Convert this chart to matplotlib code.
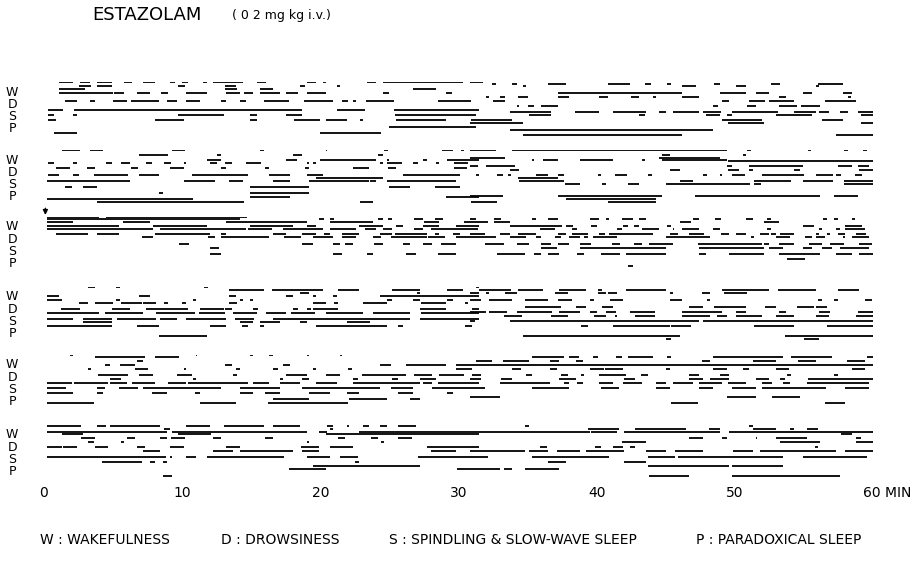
import matplotlib
matplotlib.use("Agg")
import matplotlib.pyplot as plt
from matplotlib import transforms

# sleep stages, top to bottom
STAGES = ["W", "D", "S", "P"]
TIME_TICKS = [0, 10, 20, 30, 40, 50]
LEGEND = ["W : WAKEFULNESS", "D : DROWSINESS",
          "S : SPINDLING & SLOW-WAVE SLEEP", "P : PARADOXICAL SLEEP"]

# each row: (stage level, [start, end, start, end, ...]) in minutes
# level 0 = W, 1 = D, 2 = S, 3 = P (the records are slightly offset)
GROUP1 = [
    (-0.84, [1.1, 2.1, 2.6, 3.3, 3.8, 4.9, 5.8, 6.4, 7.2, 8.0, 9.1, 9.5, 10.0, 10.4, 11.5, 11.8,
             12.2, 14.4, 15.4, 16.1, 19.0, 19.7, 20.2, 20.4, 23.4, 24.0, 24.5, 30.3, 30.8, 31.8]),
    (-0.65, [32.4, 32.7, 33.9, 34.2, 36.5, 37.8, 40.8, 42.4, 43.5, 43.9, 45.1, 45.4, 48.5, 48.9,
             52.6, 53.3, 56.0, 57.8]),
    (-0.49, [2.5, 3.4, 3.8, 4.9, 9.7, 10.2, 13.1, 13.9, 18.5, 18.9, 21.2, 21.4, 34.7, 34.9,
             46.2, 47.2, 50.1, 50.8, 55.9, 56.1]),
    (-0.22, [1.1, 3.0, 13.1, 14.0, 15.6, 16.6, 26.7, 28.4]),
    (0.05, [1.1, 5.0, 5.1, 5.8, 6.7, 7.7, 8.5, 9.0, 10.3, 11.8, 13.2, 14.2, 14.5, 15.1, 15.6, 17.1,
            17.5, 18.4, 19.0, 20.4, 24.5, 25.0, 29.1, 29.5, 37.2, 46.2, 48.9, 50.8, 51.5, 52.5,
            54.9, 55.6, 57.8, 58.5]),
    (0.38, [32.0, 32.2, 33.0, 33.4, 34.3, 35.0, 37.2, 38.0, 40.2, 40.8, 42.5, 43.1, 44.1, 44.3,
            46.2, 47.4, 53.2, 53.7, 58.2, 58.4]),
    (0.7, [1.5, 2.4, 3.3, 3.7, 5.0, 6.0, 6.3, 8.3, 8.9, 9.6, 10.3, 11.3, 12.8, 13.2, 14.2, 14.6,
           15.9, 17.7, 18.8, 20.9, 21.6, 22.0, 22.4, 22.6, 23.3, 25.3, 28.5, 29.6, 29.6, 30.9,
           32.5, 33.4, 49.1, 49.6, 51.0, 52.2, 52.5, 54.3, 56.5, 58.8]),
    (1.14, [34.2, 34.4, 35.0, 35.5, 36.0, 37.2, 48.4, 48.8, 50.9, 51.5, 53.2, 54.5, 54.8, 56.2]),
    (1.46, [0.3, 1.4, 2.2, 18.7, 21.2, 23.2, 25.3, 31.5]),
    (1.6, [33.7, 36.7, 38.4, 40.2, 41.2, 43.6, 44.5, 45.0, 45.5, 47.4, 47.7, 49.0, 49.8, 53.1,
           54.3, 55.9, 56.1, 56.8, 57.6, 58.2, 58.9, 60.0]),
    (1.87, [0.3, 0.7, 2.1, 2.4, 9.7, 13.0, 14.9, 15.4, 17.5, 18.7, 25.4, 28.6, 28.6, 31.3,
            35.1, 36.7, 43.1, 43.5, 47.9, 48.9, 49.4, 49.8, 53.0, 55.6, 59.1, 60.0]),
    (2.25, [0.3, 0.9, 8.0, 10.1, 14.9, 15.4, 18.1, 20.0, 20.4, 21.9, 22.9, 23.1, 25.5, 29.1,
            30.9, 33.9, 49.1, 52.0, 56.3, 57.8]),
    (2.5, [30.8, 34.7, 49.5, 52.1, 59.1, 60.0]),
    (2.82, [25.0, 31.3]),
    (3.09, [33.7, 48.4]),
    (3.3, [0.7, 2.4, 20.0, 24.4]),
    (3.5, [34.7, 46.2, 57.3, 60.0]),
]

GROUP2 = [
    (-0.8, [1.3, 2.6, 3.3, 4.3, 9.3, 10.2, 15.6, 15.9, 20.4, 20.5, 24.6, 24.9, 28.8, 29.6,
            30.2, 30.4, 30.8, 32.7, 33.9, 49.4, 50.9, 51.2, 55.3, 55.5, 57.9, 58.2, 59.3, 59.6]),
    (-0.4, [6.9, 9.0, 12.5, 12.8, 18.0, 18.7, 24.2, 24.5, 44.7, 45.3, 50.6, 50.8]),
    (-0.2, [30.8, 33.4, 44.5, 48.9]),
    (-0.03, [11.8, 12.8, 17.5, 18.3, 20.0, 24.0, 24.8, 25.0, 27.4, 27.7, 29.2, 31.5, 35.3, 35.5,
             36.1, 37.2, 38.8, 41.2, 43.3, 43.5, 44.7, 49.4]),
    (0.1, [49.5, 60.0]),
    (0.25, [0.3, 0.7, 2.1, 2.4, 4.5, 4.9, 5.6, 6.2, 7.4, 7.8, 8.7, 9.2, 10.1, 10.3, 12.0, 12.5,
            13.1, 13.6, 14.6, 15.7, 19.0, 19.2, 19.5, 19.7, 24.3, 24.5, 24.8, 25.9, 26.7, 27.1,
            28.4, 28.6, 29.7, 30.7]),
    (0.45, [30.8, 31.4, 32.0, 34.1, 49.4, 49.8, 51.0, 54.9, 57.5, 58.5, 58.9, 59.7]),
    (0.65, [0.9, 1.9, 3.1, 3.7, 6.3, 6.8, 9.1, 10.1, 12.8, 13.2, 16.0, 16.3, 18.9, 19.2,
            22.4, 23.5, 24.9, 25.5, 29.7, 30.6]),
    (0.81, [33.7, 34.4, 45.3, 46.0, 49.5, 50.3, 51.0, 51.3, 54.3, 54.7, 59.0, 60.0]),
    (1.25, [0.3, 1.1, 2.1, 2.5, 3.6, 6.1, 6.9, 8.3, 10.7, 14.8, 16.3, 17.8, 19.0, 20.2,
            26.0, 30.1, 31.3, 31.5, 32.8, 33.2, 33.6, 33.8, 35.6, 36.5, 37.2, 37.6, 40.1, 40.3,
            41.3, 42.2, 43.7, 44.0, 47.7, 48.0, 48.9, 49.1, 49.8, 50.7, 52.0, 55.0, 55.9, 57.1,
            57.3, 57.7, 58.7, 59.2]),
    (1.5, [19.7, 24.5, 34.3, 37.2]),
    (1.7, [0.2, 6.2, 10.1, 12.4, 13.4, 14.4, 16.6, 17.8, 19.2, 23.5, 23.6, 24.0, 24.8, 28.2,
           28.2, 29.8, 34.4, 37.6, 46.0, 47.0, 51.4, 54.1, 54.9, 57.1, 57.9, 60.0]),
    (1.95, [37.7, 38.8, 40.4, 40.7, 42.3, 43.1, 45.0, 51.1, 51.4, 51.9, 57.9, 60.0]),
    (2.2, [1.5, 2.0, 2.8, 3.8, 14.9, 19.2, 25.0, 26.5, 28.3, 30.1]),
    (2.65, [8.3, 8.6, 14.9, 19.2]),
    (2.9, [30.8, 33.2, 37.2, 44.7, 47.1, 56.2, 57.2, 58.9]),
    (2.98, [14.9, 17.8, 29.1, 31.5]),
    (3.17, [0.2, 10.8, 37.8, 44.3]),
    (3.4, [3.8, 14.5, 22.9, 23.8, 30.9, 32.8, 40.8, 44.3]),
]

GROUP3 = [
    (-0.84, [0.2, 4.0, 4.5, 14.7]),
    (-0.65, [0.2, 7.7, 7.7, 14.2, 19.9, 20.3, 20.7, 21.0, 24.2, 24.5, 24.9, 25.2, 26.8, 27.4,
             28.3, 28.9, 30.8, 31.3, 32.6, 33.1, 35.3, 35.6, 36.5, 37.2, 39.5, 40.2, 40.7, 40.9,
             41.8, 42.6, 43.1, 43.6, 47.0, 47.4, 48.6, 49.0, 50.8, 51.3, 52.3, 52.6, 56.4, 56.7,
             57.2, 57.5, 58.5, 58.7]),
    (-0.38, [0.2, 2.1, 5.7, 7.7, 13.2, 19.0, 20.7, 23.8, 27.5, 28.6, 30.4, 32.1, 32.6, 33.7,
             46.0, 46.8, 52.1, 53.2]),
    (-0.11, [0.2, 5.4, 7.9, 11.8, 14.9, 18.0, 19.0, 19.7, 22.8, 24.5, 25.5, 26.0, 27.4, 28.6,
             29.8, 31.5, 33.7, 37.5, 37.8, 38.3, 39.6, 40.0, 41.9, 42.3, 42.7, 43.1, 45.1, 45.4,
             54.9, 55.7, 58.0, 59.2]),
    (0.17, [0.2, 7.9, 8.4, 14.6, 14.8, 16.5, 17.3, 20.2, 20.7, 22.6, 23.2, 24.0, 24.5, 25.2,
            26.8, 27.4, 28.0, 31.4, 35.9, 37.0, 38.2, 38.6, 41.5, 41.8, 43.3, 44.5, 45.5, 45.6,
            46.2, 47.4, 48.4, 48.9, 52.3, 52.6, 56.1, 56.3, 57.3, 57.6, 58.0, 59.4]),
    (0.57, [0.9, 3.2, 3.8, 5.4, 8.0, 12.0, 12.8, 13.2, 16.6, 17.5, 18.7, 19.7, 20.3, 20.7,
            21.6, 22.8, 24.3, 25.2, 25.4, 27.7, 28.3, 28.6, 29.6, 30.1, 30.8, 31.9, 33.0, 33.7,
            34.3, 35.6, 37.2, 37.8, 38.2, 39.4, 40.2, 40.6, 40.9, 44.1, 45.3, 45.9, 46.7, 47.8,
            49.0, 49.6, 50.1, 50.8, 51.8, 52.5, 52.6, 53.0, 53.3, 54.3, 55.9, 56.1, 56.7, 56.9,
            57.5, 58.0, 58.8, 59.5]),
    (0.85, [7.1, 7.9, 11.9, 12.4, 12.8, 16.3, 17.4, 18.6, 19.5, 20.9, 21.6, 22.6, 23.8, 24.4,
            25.1, 27.7, 27.8, 29.0, 29.8, 32.7, 33.7, 34.9, 35.6, 36.0, 37.0, 37.4, 38.0, 38.8,
            39.1, 39.4, 39.7, 41.5, 45.0, 48.2, 51.2, 51.4, 53.0, 54.0, 55.1, 55.6, 55.9, 56.5,
            57.8, 58.0, 58.5, 59.7]),
    (1.4, [9.8, 10.5, 18.7, 19.5, 20.9, 21.4, 21.8, 22.4, 23.9, 24.5, 26.0, 26.5, 27.4, 28.1,
           28.7, 29.8, 31.9, 33.3, 34.2, 35.1, 36.0, 36.7, 37.2, 38.0, 38.8, 39.6, 41.1, 41.7,
           42.7, 43.3, 43.8, 45.5, 47.3, 52.0, 52.1, 52.5, 53.2, 54.3, 55.4, 56.3, 56.9, 57.9,
           59.0, 59.9]),
    (1.74, [12.0, 12.7, 36.0, 37.1, 38.8, 45.0, 47.4, 52.1, 52.5, 53.5, 54.9, 55.6, 56.3, 57.0,
            57.6, 59.7]),
    (2.2, [12.0, 12.8, 20.9, 21.6, 23.4, 23.8, 26.2, 26.9, 28.5, 29.8, 32.8, 34.8, 35.5, 36.0,
           36.5, 37.3, 38.6, 39.1, 40.3, 41.7, 42.1, 45.0, 47.4, 47.9, 49.6, 52.1, 53.2, 56.2,
           57.3, 58.5, 59.0, 60.0]),
    (2.6, [53.8, 55.1]),
    (3.2, [42.3, 42.6]),
]

GROUP4 = [
    (-0.84, [3.2, 3.7, 5.2, 5.5, 11.6, 11.9, 31.3, 31.5]),
    (-0.6, [13.4, 15.9, 16.5, 20.2, 21.3, 22.8, 25.2, 27.2, 29.2, 30.3, 31.5, 33.8, 34.3, 36.1,
            37.3, 39.2, 40.1, 40.4, 42.1, 45.0, 49.1, 52.5, 53.1, 55.9, 57.5, 59.0]),
    (-0.3, [18.5, 19.2, 27.0, 27.2, 30.8, 31.5, 32.0, 32.2, 33.4, 34.2, 37.0, 37.9, 40.1, 40.7,
            40.8, 41.5, 45.3, 45.5, 47.6, 48.2, 49.2, 50.9]),
    (-0.08, [0.2, 1.1, 6.9, 7.7, 13.4, 13.9, 17.5, 18.0, 19.5, 19.7, 20.9, 21.2, 24.3, 31.5]),
    (0.24, [0.2, 1.3, 5.2, 5.5, 10.8, 11.0, 14.2, 14.4, 14.9, 15.1, 24.8, 25.2, 26.7, 27.2,
            29.2, 29.6, 30.8, 31.6, 32.2, 33.9, 34.8, 36.5, 37.2, 38.2, 39.5, 39.8, 41.0, 41.9,
            45.3, 46.2, 48.0, 48.2, 56.0, 56.3, 57.2, 57.5, 59.4, 59.9]),
    (0.46, [2.5, 3.2, 3.7, 5.0, 5.6, 7.1, 7.2, 8.1, 8.7, 9.0, 10.0, 10.3, 13.4, 14.0, 19.5, 20.4,
            21.0, 21.3, 23.1, 24.8, 27.3, 29.1, 30.5, 30.7]),
    (0.85, [34.8, 37.4, 38.5, 39.2, 40.4, 41.2, 46.7, 47.7, 48.5, 50.8, 52.2, 53.0, 54.5, 55.7,
            55.9, 56.7]),
    (0.98, [1.2, 2.6, 4.9, 6.2, 7.4, 10.4, 11.3, 13.0, 13.1, 13.6, 15.1, 15.5, 18.0, 18.4,
            19.0, 19.3, 19.5, 21.3, 27.2, 29.1, 31.0, 31.5]),
    (1.2, [30.8, 32.0, 32.2, 33.5, 34.2, 36.8, 37.3, 38.8, 39.5, 40.0, 40.7, 41.4, 42.4, 44.2,
           46.2, 48.2, 48.2, 49.1, 50.1, 50.8, 53.2, 53.7, 56.1, 56.9, 58.9, 60.0]),
    (1.33, [0.2, 4.0, 4.4, 7.2, 8.1, 10.9, 11.2, 13.1, 13.7, 15.4, 16.1, 17.5, 17.9, 19.6,
            20.4, 23.1, 23.8, 26.5, 27.3, 31.5]),
    (1.55, [33.3, 34.6, 36.7, 37.9, 39.8, 40.7, 41.3, 41.5, 42.8, 44.2, 46.2, 48.2, 48.7, 49.4,
            50.1, 52.0, 53.0, 54.3, 55.9, 56.8, 58.8, 60.0]),
    (1.8, [0.2, 2.1, 2.8, 4.9, 5.3, 8.1, 8.4, 9.6, 10.3, 13.2, 13.8, 15.2, 16.6, 26.5, 27.2, 31.5]),
    (1.92, [30.8, 31.2, 33.7, 47.4, 47.7, 55.6, 55.6, 60.0]),
    (2.06, [2.8, 4.9, 14.2, 15.1, 15.6, 17.1, 18.5, 19.0, 21.9, 23.6]),
    (2.33, [0.2, 4.9, 6.7, 8.3, 12.0, 13.2, 14.3, 14.8, 15.6, 15.9, 19.7, 24.8, 25.6, 26.0,
            30.5, 31.0, 38.9, 39.4, 41.2, 45.3, 45.4, 46.8, 51.4, 54.3, 56.7, 60.0]),
    (3.2, [8.3, 11.8, 34.7, 46.0, 53.6, 60.0]),
    (3.4, [45.0, 45.4, 55.0, 56.1]),
]

GROUP5 = [
    (-0.81, [1.9, 2.1, 11.0, 11.1, 14.9, 15.1, 16.3, 16.6, 19.0, 19.2, 21.4, 21.6]),
    (-0.62, [3.7, 7.3, 8.0, 9.8, 35.3, 37.6, 38.0, 38.7, 39.7, 40.1, 41.4, 41.8, 42.3, 44.1,
             45.1, 45.4, 48.4, 53.5, 54.1, 57.0, 59.6, 60.0]),
    (-0.35, [6.7, 7.2, 31.3, 32.4, 33.2, 35.1, 36.6, 37.3, 38.5, 39.0, 47.6, 48.2, 51.3, 53.0,
             54.6, 55.9, 58.1, 59.4]),
    (0.0, [4.4, 4.8, 5.5, 6.6, 13.1, 13.6, 17.3, 17.8, 24.3, 25.1, 26.2, 29.1, 29.8, 60.0]),
    (0.33, [3.2, 3.4, 6.6, 7.5, 10.1, 10.3, 13.9, 14.2, 16.6, 16.9, 19.5, 19.7, 22.0, 22.3,
            29.8, 31.0, 33.9, 34.5, 36.6, 37.1, 39.5, 40.5, 40.6, 41.9, 45.0, 45.3, 48.4, 49.4,
            50.6, 51.0, 53.0, 53.9, 58.5, 59.4]),
    (0.81, [3.9, 6.1, 6.9, 7.9, 9.6, 10.7, 13.7, 14.0, 17.5, 19.0, 20.4, 21.4, 23.0, 26.2,
            26.8, 28.1, 28.6, 30.4, 31.0, 31.6, 34.9, 35.3, 37.4, 37.9, 38.9, 39.1, 40.2, 42.1,
            43.2, 43.7, 46.7, 47.4, 48.9, 49.6, 53.8, 54.1, 57.2, 57.5]),
    (1.14, [4.8, 5.6, 10.8, 11.0, 17.1, 17.3, 18.7, 19.2, 22.4, 22.7, 25.2, 25.6, 27.2, 28.4,
            30.8, 31.6, 33.1, 33.9, 37.3, 38.5, 42.0, 42.8, 46.7, 47.7, 48.2, 49.6, 51.5, 52.5,
            53.3, 53.6, 55.3, 60.0]),
    (1.49, [0.2, 2.0, 2.2, 4.6, 4.8, 6.0, 6.4, 8.0, 9.0, 10.3, 10.4, 14.8, 15.1, 16.3, 17.1, 18.5,
            19.7, 21.2, 22.4, 27.2, 27.4, 28.1, 28.5, 31.5, 33.0, 36.6, 37.6, 38.0, 38.6, 39.0,
            40.2, 41.2, 41.9, 43.3, 44.3, 45.0, 45.5, 47.0, 47.4, 49.1, 49.5, 50.8, 52.0, 52.7,
            53.5, 54.0, 55.2, 59.7]),
    (1.9, [0.2, 1.6, 3.8, 4.4, 5.4, 6.8, 7.2, 12.8, 14.2, 17.1, 18.7, 24.3, 25.1, 26.7, 28.1, 31.9,
           35.3, 38.0, 40.3, 41.6, 44.3, 45.3, 47.4, 48.4, 49.8, 51.5, 52.0, 56.6, 58.0, 59.7]),
    (2.3, [0.2, 2.1, 3.8, 4.3, 7.8, 8.9, 10.9, 11.3, 14.2, 15.1, 16.0, 17.1, 19.2, 20.7,
           21.9, 22.8, 25.6, 26.7, 29.2, 29.6]),
    (2.6, [30.8, 33.0, 49.4, 51.5, 52.7, 54.7]),
    (2.77, [16.6, 19.2, 22.1, 24.8, 26.5, 27.2]),
    (3.1, [0.2, 3.6, 11.3, 13.9, 16.2, 22.0, 45.4, 47.3, 56.5, 58.0]),
]

GROUP6 = [
    (-0.76, [0.2, 2.7, 3.8, 4.5, 4.8, 8.4, 10.3, 12.0, 13.0, 15.9, 16.6, 18.5, 20.5, 20.9,
             21.9, 22.1, 23.1, 23.5, 24.3, 24.8, 25.6, 26.9, 34.8, 35.1, 51.0, 51.3]),
    (-0.49, [8.7, 9.1, 20.7, 20.9, 39.4, 41.6, 42.8, 46.5, 48.1, 48.9, 51.3, 53.0, 54.0, 54.3,
             55.2, 56.0]),
    (-0.27, [0.2, 3.1, 3.1, 8.9, 9.3, 19.0, 19.9, 20.5, 22.8, 24.8, 24.8, 35.9, 35.9, 39.5,
             39.6, 41.5, 42.0, 48.9, 49.6, 60.0]),
    (-0.08, [1.3, 2.8, 9.7, 12.1, 20.4, 31.5, 57.7, 58.5]),
    (0.27, [2.7, 3.7, 6.0, 6.6, 8.4, 8.9, 9.2, 10.2, 12.2, 12.8, 16.0, 16.6, 21.3, 21.8,
            23.7, 24.2, 25.6, 26.6, 46.7, 47.7, 49.1, 49.4, 51.5, 51.6, 53.0, 55.2, 58.8, 59.1]),
    (0.6, [3.2, 3.6, 5.6, 5.8, 19.0, 19.2, 24.4, 24.6, 41.8, 43.6, 53.3, 56.2, 58.8, 60.0]),
    (1.0, [0.2, 1.3, 1.4, 2.4, 3.7, 4.6, 6.7, 7.3, 9.1, 10.1, 13.2, 14.2, 18.6, 19.9, 20.7, 22.4,
           27.7, 31.5, 35.9, 36.4, 39.9, 40.3, 41.2, 41.9, 42.4, 42.8, 55.8, 56.0]),
    (1.3, [7.2, 8.4, 12.2, 13.7, 14.2, 18.0, 18.7, 19.9, 28.0, 29.8, 30.8, 34.8, 35.1, 36.5,
           37.1, 38.8, 39.2, 42.0, 43.6, 45.0, 45.7, 47.7, 49.9, 51.3, 51.8, 57.3, 58.0, 60.0]),
    (1.76, [0.2, 8.8, 9.1, 9.3, 10.3, 11.0, 11.8, 17.4, 19.0, 20.7, 21.4, 22.7, 27.1, 32.1,
            35.3, 40.9, 43.7, 45.7, 45.9, 53.5, 54.9, 59.6]),
    (2.22, [4.2, 7.1, 7.7, 8.0, 8.6, 8.9, 22.5, 22.8, 36.5, 37.8, 42.0, 43.6]),
    (2.49, [19.5, 27.2, 43.7, 49.6, 49.8, 53.5]),
    (2.76, [17.7, 20.4, 29.9, 33.0, 33.3, 33.9, 34.8, 37.3]),
    (3.3, [8.6, 9.3, 43.8, 46.7, 49.8, 57.6]),
]

GROUPS = [GROUP1, GROUP2, GROUP3, GROUP4, GROUP5, GROUP6]

# layout in pixels of the 915 x 567 page
W, H = 915, 567
X0, X1 = 44, 873
GROUP_TOPS = [82, 150, 217, 287, 355, 425]
BAND = 54
LEVEL_PX = 12.3

fig = plt.figure(figsize=(9.15, 5.67), dpi=100)
fig.patch.set_facecolor("white")

axes = []
for top, rows in zip(GROUP_TOPS, GROUPS):
    ax = fig.add_axes([X0 / W, 1 - (top + BAND) / H, (X1 - X0) / W, BAND / H])
    ax.set_xlim(0, 60)
    ax.set_ylim((BAND - 10) / LEVEL_PX, -10 / LEVEL_PX)
    ax.axis("off")
    for level, pairs in rows:
        starts = pairs[0::2]
        ends = pairs[1::2]
        ax.hlines([level] * len(starts), starts, ends, color="black", lw=1.3)
    for k, s in enumerate(STAGES):
        ax.text(-2.3, k, s, ha="center", va="center", fontsize=9, clip_on=False)
    axes.append(ax)

# injection marker on the third record
axes[2].annotate("", xy=(0.1, -0.75), xytext=(0.1, -1.75),
                 arrowprops=dict(arrowstyle="-|>", lw=1.0, color="black",
                                 mutation_scale=7),
                 annotation_clip=False)

# time axis labels
bot = axes[-1]
tr = transforms.blended_transform_factory(bot.transData, fig.transFigure)
for t in TIME_TICKS:
    bot.text(t, 1 - 493 / H, str(t), transform=tr, ha="center", va="center", fontsize=10)
bot.text(59.3, 1 - 493 / H, "60 MIN", transform=tr, ha="left", va="center", fontsize=10)

# title
fig.text(92 / W, 1 - 15 / H, "ESTAZOLAM", ha="left", va="center", fontsize=13)
fig.text(232 / W, 1 - 15 / H, "( 0 2 mg kg i.v.)", ha="left", va="center", fontsize=9)

# stage key
for x, s in zip([40, 221, 389, 696], LEGEND):
    fig.text(x / W, 1 - 540 / H, s, ha="left", va="center", fontsize=10)

fig.savefig("out.png", dpi=100, facecolor="white")
